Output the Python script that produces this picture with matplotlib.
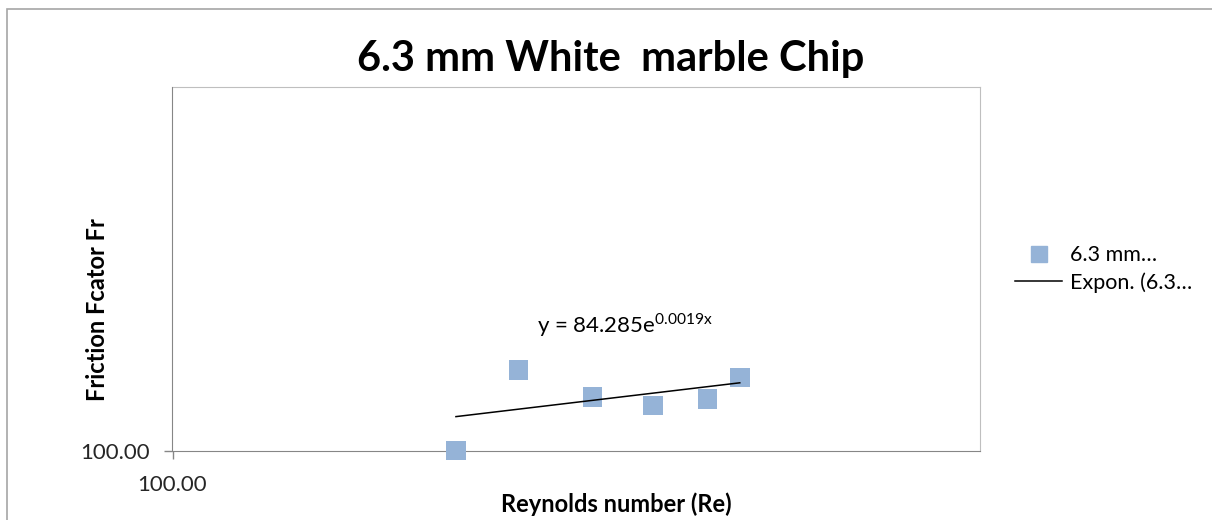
import numpy as np
import matplotlib
matplotlib.use('Agg')
import matplotlib.pyplot as plt
from matplotlib.lines import Line2D
from matplotlib.patches import Rectangle

plt.rcParams['font.family'] = ['Lato', 'DejaVu Sans']
plt.rcParams['mathtext.fontset'] = 'custom'
plt.rcParams['mathtext.rm'] = 'Lato'

# data (log-log axes)
reynolds = [224.4, 268.1, 331.1, 393.6, 460.0, 504.1]
friction = [100.3, 166.9, 141.0, 133.5, 139.2, 159.2]
x_ticks = [100]
y_ticks = [100]
x_tick_labels = ['100.00']
y_tick_labels = ['100.00']
title = '6.3 mm White  marble Chip'
x_label = 'Reynolds number (Re)'
y_label = 'Friction Fcator Fr'
series_label = '6.3 mm…'
trend_label = 'Expon. (6.3…'
equation = r'y = 84.285e$^{\mathrm{0.0019x}}$'

fig = plt.figure(figsize=(12.12, 5.2), dpi=100)

# outer chart border (runs off the right/bottom of the picture)
fig.patches.append(Rectangle((7 / 1212, -0.1), 1.2, 1 - 9 / 520 + 0.1,
                             transform=fig.transFigure, fill=False,
                             edgecolor='#a6a6a6', linewidth=1.2))

ax = fig.add_axes([172.5 / 1212, 69 / 520, 807.5 / 1212, 364 / 520])
ax.set_xscale('log')
ax.set_yscale('log')
ax.set_xlim(100, 1000)
ax.set_ylim(100, 1000)

ax.scatter(reynolds, friction, marker='s', s=200, color='#95b3d7',
           edgecolors='none', zorder=3, clip_on=False)

# exponential trend line fitted to the points (drawn straight, like excel)
xr = np.array(reynolds)
b, ln_a = np.polyfit(xr, np.log(friction), 1)
xt = np.array([xr.min(), xr.max()])
ax.plot(xt, np.exp(ln_a) * np.exp(b * xt), color='black', linewidth=1.1, zorder=4)

ax.text(625 / 1212, 1 - 325 / 520, equation, transform=fig.transFigure,
        fontsize=16, ha='center', va='center')

ax.set_xticks(x_ticks)
ax.set_xticklabels(x_tick_labels)
ax.set_yticks(y_ticks)
ax.set_yticklabels(y_tick_labels)
ax.minorticks_off()
ax.tick_params(axis='both', labelsize=16, length=6, width=1, color='#868686',
               labelcolor='#262626')
ax.tick_params(axis='x', pad=11)
ax.tick_params(axis='y', pad=10)

for side in ['top', 'right']:
    ax.spines[side].set_color('#bfbfbf')
for side in ['left', 'bottom']:
    ax.spines[side].set_color('#868686')

fig.text(616 / 1212, 1 - 512 / 520, x_label, fontsize=17, fontweight='bold',
         ha='center', va='baseline')
fig.text(98 / 1212, 1 - 310 / 520, y_label, fontsize=17, fontweight='bold',
         ha='center', va='center', rotation=90)
fig.text(611 / 1212, 1 - 71 / 520, title, fontsize=30, fontweight='bold',
         ha='center', va='baseline')

handles = [Line2D([], [], marker='s', linestyle='none', markersize=11.5,
                  color='#95b3d7'),
           Line2D([], [], color='black', linewidth=1.1)]
fig.legend(handles, [series_label, trend_label], loc='center left',
           bbox_to_anchor=(1015 / 1212, 1 - 269 / 520), frameon=False,
           borderpad=0, borderaxespad=0,
           fontsize=15.5, handlelength=2.2, handletextpad=0.37, labelspacing=0.3)

fig.savefig('out.png', dpi=100)
